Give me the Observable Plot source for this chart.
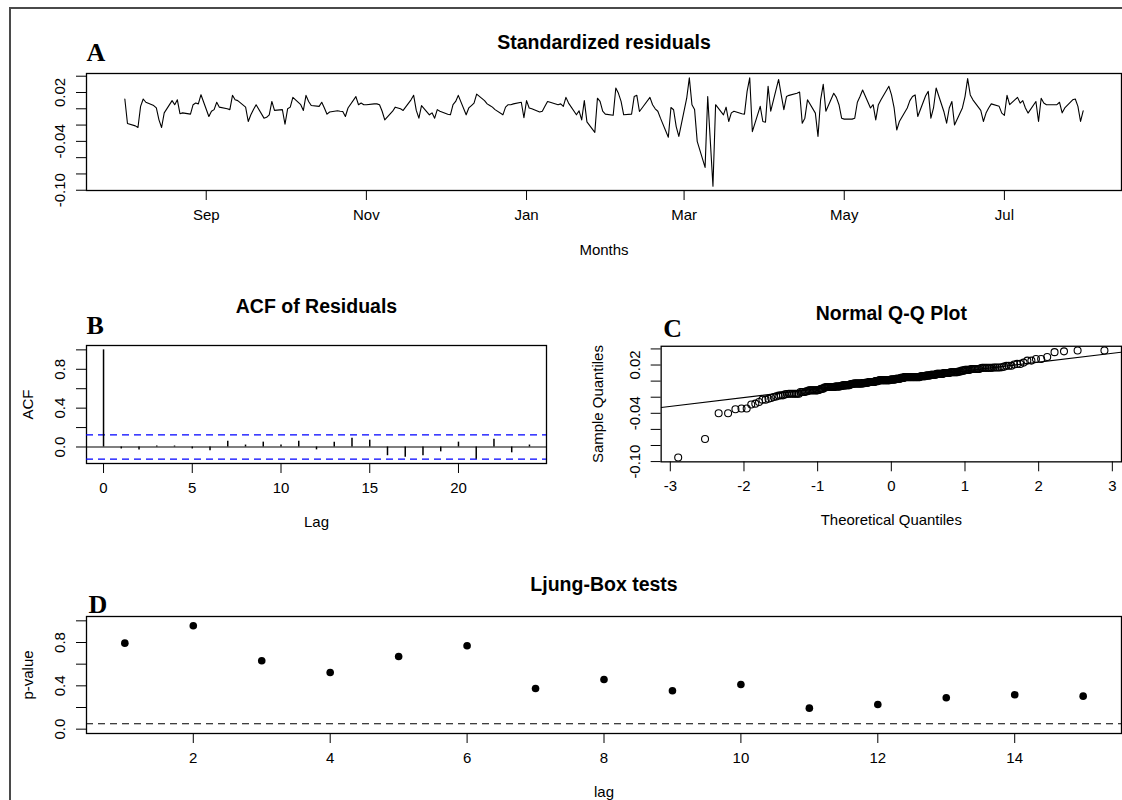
<!DOCTYPE html>
<html>
<head>
<meta charset="utf-8">
<script src="https://cdn.jsdelivr.net/npm/d3@7"></script>
<script src="https://cdn.jsdelivr.net/npm/@observablehq/plot@0.6"></script>
<style>
  html, body { margin: 0; padding: 0; background: #fff; }
  #page { position: relative; width: 1122px; height: 800px; overflow: hidden; background: #fff; }
  .panel { position: absolute; }
  #border { position: absolute; left: 9px; top: 7px; width: 1300px; height: 900px;
            border-left: 2px solid #4a4a4a; border-top: 2px solid #4a4a4a; box-sizing: border-box; }
</style>
</head>
<body>
<div id="page">
  <div id="border"></div>
  <div class="panel" id="pA" style="left:0;top:0"></div>
  <div class="panel" id="pB" style="left:0;top:280px"></div>
  <div class="panel" id="pC" style="left:561px;top:280px"></div>
  <div class="panel" id="pD" style="left:0;top:550px"></div>
</div>
<script>
// ---------------- DATA ----------------
// Standardized residuals, one value per weekday of each month (Aug 2019 - Jul 2020)
const resAug = [0.012, -0.018, -0.021, -0.023, 0.003, 0.012, 0.008, 0.004, 0.001, -0.0136, -0.023, -0.005, 0.010, 0.005, 0.011, -0.006, -0.005, -0.0066, 0.005, 0.007, 0.006, 0.0173];
const resSep = [-0.0095, -0.003, -0.001, 0.008, 0.002, 0.000, -0.001, 0.0165, 0.011, 0.010, 0.002, -0.0156, -0.0074, -0.001, 0.005, -0.0115, -0.0105, -0.0074, 0.009, -0.002, -0.001];
const resOct = [-0.019, 0.000, 0.002, 0.014, 0.005, -0.002, 0.0165, 0.009, 0.004, 0.003, 0.008, 0.001, -0.0066, -0.004, -0.0025, -0.003, -0.0033, -0.0095, 0.001, 0.015, 0.005, 0.007, 0.005];
const resNov = [0.005, 0.006, 0.006, 0.005, -0.003, -0.0136, -0.003, 0.002, 0.001, 0.000, -0.002, 0.011, 0.0165, -0.002, -0.0115, 0.004, -0.0074, -0.005, -0.0115, -0.001, -0.003];
const resDec = [-0.0066, -0.0074, 0.005, 0.009, 0.0165, -0.0074, 0.001, 0.004, 0.007, 0.018, 0.010, 0.006, 0.004, 0.002, -0.001, -0.0074, 0.002, 0.005, 0.005, 0.006, 0.008, -0.011];
const resJan = [0.010, 0.001, 0.000, -0.004, -0.003, 0.003, 0.009, 0.008, 0.005, 0.006, 0.003, 0.014, 0.007, -0.0074, -0.0025, -0.0136, 0.010, -0.016, -0.029, 0.013, 0.009, -0.003, -0.0066];
const resFeb = [-0.008, 0.0255, 0.019, 0.009, -0.0074, -0.0066, 0.015, 0.0165, -0.0033, 0.001, 0.014, 0.005, 0.000, -0.003, -0.0115, -0.035, 0.0016, -0.0012, -0.0218, -0.034];
const resMar = [0.013, 0.038, 0.005, -0.001, -0.040, -0.072, 0.015, -0.040, -0.095, 0.005, -0.0074, 0.002, -0.0156, -0.005, -0.003, -0.006, -0.0066, 0.0214, 0.038, -0.028, 0.003, -0.0156];
const resApr = [-0.0165, 0.0276, -0.003, 0.036, 0.017, -0.001, 0.015, 0.0165, 0.019, 0.0206, -0.0177, -0.0115, 0.011, -0.0053, -0.034, 0.011, 0.030, -0.003, 0.019, 0.014, 0.005, -0.0115];
const resMay = [-0.0127, -0.0127, -0.0115, 0.008, 0.015, 0.023, 0.001, 0.005, -0.0136, 0.005, 0.011, 0.0276, 0.017, 0.001, -0.026, -0.0156, 0.001, 0.010, 0.015, 0.017, -0.0095];
const resJun = [0.016, 0.0214, -0.0115, 0.001, 0.0255, -0.004, -0.0177, 0.001, 0.009, -0.0198, 0.001, 0.015, 0.037, 0.017, 0.011, -0.002, -0.0156, -0.0053, 0.001, 0.006, 0.003, -0.0053];
const resJul = [-0.008, 0.0165, 0.005, 0.014, 0.007, 0.010, 0.001, -0.0053, 0.009, -0.0156, 0.013, 0.007, 0.005, 0.005, 0.005, 0.008, -0.005, 0.001, 0.011, 0.012, 0.003, -0.0156, -0.0025];

const monthTickDates = ["2019-09-01", "2019-11-01", "2020-01-01", "2020-03-01", "2020-05-01", "2020-07-01"];
const residualTicks = [0.04, 0.02, 0.00, -0.02, -0.04, -0.06, -0.08, -0.10];
const residualLabels = [0.02, -0.04, -0.10];

// ACF of residuals
const acfLags   = [0, 1, 2, 3, 4, 5, 6, 7, 8, 9, 10, 11, 12, 13, 14, 15, 16, 17, 18, 19, 20, 21, 22, 23, 24];
const acfValues = [1, -0.02, -0.03, 0.01, 0.01, -0.02, -0.04, 0.06, 0.02, 0.05, 0.02, 0.06, -0.03, 0.05, 0.09, 0.07, -0.09, -0.105, -0.09, -0.05, 0.05, -0.127, 0.08, -0.06, 0.02];
const acfBounds = [0.125, -0.125];
const acfXTicks = [0, 5, 10, 15, 20];
const acfYTicks = [0, 0.2, 0.4, 0.6, 0.8, 1.0];
const acfYLabels = [0, 0.4, 0.8];

// Normal Q-Q
const qqXTicks = [-3, -2, -1, 0, 1, 2, 3];

// Ljung-Box p-values
const lbLags = [1, 2, 3, 4, 5, 6, 7, 8, 9, 10, 11, 12, 13, 14, 15];
const lbPValues = [0.794, 0.955, 0.632, 0.523, 0.671, 0.770, 0.376, 0.459, 0.354, 0.413, 0.194, 0.228, 0.290, 0.318, 0.305];
const lbLevel = [0.05];
const lbXTicks = [2, 4, 6, 8, 10, 12, 14];
const lbYTicks = [0, 0.2, 0.4, 0.6, 0.8, 1.0];
const lbYLabels = [0, 0.4, 0.8];

// ---------------- BUILD TABLES ----------------
const monthBlocks = [
  [2019, 7, resAug], [2019, 8, resSep], [2019, 9, resOct], [2019, 10, resNov], [2019, 11, resDec],
  [2020, 0, resJan], [2020, 1, resFeb], [2020, 2, resMar], [2020, 3, resApr], [2020, 4, resMay],
  [2020, 5, resJun], [2020, 6, resJul]
];
function weekdays(y, m) {
  return d3.utcDays(new Date(Date.UTC(y, m, 1)), new Date(Date.UTC(y, m + 1, 1)))
    .filter(d => d.getUTCDay() !== 0 && d.getUTCDay() !== 6);
}
const residuals = monthBlocks.flatMap(([y, m, vals]) => {
  const days = weekdays(y, m);
  return vals.slice(0, days.length).map((v, i) => ({date: days[i], value: v}));
});
const acfData = acfLags.map((lag, i) => ({lag, acf: acfValues[i]}));
const lbData = lbLags.map((lag, i) => ({lag, p: lbPValues[i]}));

// theoretical normal quantiles (as in qqnorm)
function qnorm(p) {
  const a = [-3.969683028665376e+01, 2.209460984245205e+02, -2.759285104469687e+02, 1.383577518672690e+02, -3.066479806614716e+01, 2.506628277459239e+00];
  const b = [-5.447609879822406e+01, 1.615858368580409e+02, -1.556989798598866e+02, 6.680131188771972e+01, -1.328068155288572e+01];
  const c = [-7.784894002430293e-03, -3.223964580411365e-01, -2.400758277161838e+00, -2.549671010243000e+00, 4.374664141464968e+00, 2.938163982698783e+00];
  const d = [7.784695709041462e-03, 3.224671290700398e-01, 2.445134137142996e+00, 3.754408661907416e+00];
  const pl = 0.02425, ph = 1 - pl;
  let q, r;
  if (p < pl) { q = Math.sqrt(-2 * Math.log(p)); return (((((c[0]*q+c[1])*q+c[2])*q+c[3])*q+c[4])*q+c[5]) / ((((d[0]*q+d[1])*q+d[2])*q+d[3])*q+1); }
  if (p <= ph) { q = p - 0.5; r = q*q; return (((((a[0]*r+a[1])*r+a[2])*r+a[3])*r+a[4])*r+a[5])*q / (((((b[0]*r+b[1])*r+b[2])*r+b[3])*r+b[4])*r+1); }
  q = Math.sqrt(-2 * Math.log(1 - p)); return -(((((c[0]*q+c[1])*q+c[2])*q+c[3])*q+c[4])*q+c[5]) / ((((d[0]*q+d[1])*q+d[2])*q+d[3])*q+1);
}
const sortedRes = residuals.map(d => d.value).sort(d3.ascending);
const nRes = sortedRes.length;
const qqData = sortedRes.map((v, i) => ({theo: qnorm((i + 1 - 0.5) / nRes), sample: v}));
const q1 = d3.quantile(sortedRes, 0.25), q3 = d3.quantile(sortedRes, 0.75);
const slope = (q3 - q1) / (qnorm(0.75) - qnorm(0.25));
const intercept = q1 - slope * qnorm(0.25);

function pad(ext, f = 0.04) { const r = ext[1] - ext[0]; return [ext[0] - r * f, ext[1] + r * f]; }
const resYDomain = pad(d3.extent(residuals, d => d.value));
const dateExt = d3.extent(residuals, d => d.date);
const dateDomain = pad([+dateExt[0], +dateExt[1]]).map(t => new Date(t));
const qqXDomain = pad(d3.extent(qqData, d => d.theo));
const qqLine = qqXDomain.map(x => ({theo: x, sample: intercept + slope * x}));

// ---------------- COMMON STYLE ----------------
const FONT = "'Liberation Sans', Arial, sans-serif";
const style = {fontFamily: FONT, fontSize: "16px", color: "#000", background: "transparent", overflow: "visible"};
const TITLE = {fontWeight: "bold", fontSize: 19.5, fill: "#000", textAnchor: "middle", lineAnchor: "middle"};
const LETTER = {fontWeight: "bold", fontSize: 26, fontFamily: "'Liberation Serif', 'Times New Roman', serif", fill: "#000", textAnchor: "start", lineAnchor: "middle"};
const YLAB = {frameAnchor: "left", rotate: -90, textAnchor: "middle", lineAnchor: "middle", fontSize: 15};
const XLAB = {frameAnchor: "bottom", textAnchor: "middle", lineAnchor: "middle", fontSize: 15};
const one = ["x"];
const plain = d => String(d);

// ---------------- PANEL A ----------------
const plotA = Plot.plot({
  width: 1122, height: 270,
  marginLeft: 86, marginRight: 1, marginTop: 73, marginBottom: 80,
  style,
  x: {type: "utc", domain: dateDomain},
  y: {domain: resYDomain},
  marks: [
    Plot.frame({stroke: "#000", strokeWidth: 1.3}),
    Plot.line(residuals, {x: "date", y: "value", stroke: "#000", strokeWidth: 1.1}),
    Plot.axisX({ticks: monthTickDates.map(s => new Date(s)), tickFormat: d3.utcFormat("%b"), tickSize: 10, tickPadding: 9, label: null, fontSize: 15}),
    Plot.axisY({ticks: residualTicks, tickSize: 10, tickFormat: () => "", label: null}),
    Plot.text(residualLabels, {y: d => d, text: d => d.toFixed(2), dx: -26, ...YLAB}),
    Plot.text(one, {text: () => "Months", dy: 60, ...XLAB}),
    Plot.text(one, {text: () => "Standardized residuals", frameAnchor: "top", dy: -31, ...TITLE}),
    Plot.text(one, {text: () => "A", frameAnchor: "top-left", dx: 0, dy: -21, ...LETTER})
  ]
});
document.getElementById("pA").append(plotA);

// ---------------- PANEL B ----------------
const plotB = Plot.plot({
  width: 561, height: 270,
  marginLeft: 86, marginRight: 15, marginTop: 65, marginBottom: 87,
  style,
  x: {domain: pad([0, 24])},
  y: {domain: pad([-0.125, 1])},
  marks: [
    Plot.frame({stroke: "#000", strokeWidth: 1.3}),
    Plot.ruleY([0], {stroke: "#000", strokeWidth: 1.2}),
    Plot.ruleY(acfBounds, {stroke: "#0000ff", strokeWidth: 1.3, strokeDasharray: "7,5"}),
    Plot.ruleX(acfData, {x: "lag", y1: 0, y2: "acf", stroke: "#000", strokeWidth: 1.5}),
    Plot.axisX({ticks: acfXTicks, tickFormat: plain, tickSize: 10, tickPadding: 9, label: null, fontSize: 15}),
    Plot.axisY({ticks: acfYTicks, tickSize: 10, tickFormat: () => "", label: null}),
    Plot.text(acfYLabels, {y: d => d, text: d => d.toFixed(1), dx: -26, ...YLAB}),
    Plot.text(one, {text: () => "Lag", dy: 59, ...XLAB}),
    Plot.text(one, {text: () => "ACF", dx: -58, ...YLAB}),
    Plot.text(one, {text: () => "ACF of Residuals", frameAnchor: "top", dy: -39, ...TITLE}),
    Plot.text(one, {text: () => "B", frameAnchor: "top-left", dx: 0, dy: -20, ...LETTER})
  ]
});
document.getElementById("pB").append(plotB);

// ---------------- PANEL C ----------------
const plotC = Plot.plot({
  width: 563, height: 270,
  marginLeft: 100, marginRight: 1, marginTop: 66, marginBottom: 88,
  style,
  x: {domain: qqXDomain},
  y: {domain: resYDomain},
  marks: [
    Plot.frame({stroke: "#000", strokeWidth: 1.3}),
    Plot.line(qqLine, {x: "theo", y: "sample", stroke: "#000", strokeWidth: 1.1, clip: true}),
    Plot.dot(qqData, {x: "theo", y: "sample", r: 3.5, stroke: "#000", strokeWidth: 1.1, fill: "none"}),
    Plot.axisX({ticks: qqXTicks, tickFormat: plain, tickSize: 10, tickPadding: 9, label: null, fontSize: 15}),
    Plot.axisY({ticks: residualTicks, tickSize: 10, tickFormat: () => "", label: null}),
    Plot.text(residualLabels, {y: d => d, text: d => d.toFixed(2), dx: -26, ...YLAB}),
    Plot.text(one, {text: () => "Theoretical Quantiles", dy: 59, ...XLAB}),
    Plot.text(one, {text: () => "Sample Quantiles", dx: -63, ...YLAB}),
    Plot.text(one, {text: () => "Normal Q-Q Plot", frameAnchor: "top", dy: -33, ...TITLE}),
    Plot.text(one, {text: () => "C", frameAnchor: "top-left", dx: 2, dy: -18, ...LETTER})
  ]
});
document.getElementById("pC").append(plotC);

// ---------------- PANEL D ----------------
const plotD = Plot.plot({
  width: 1122, height: 250,
  marginLeft: 86, marginRight: 1, marginTop: 66, marginBottom: 67,
  style,
  x: {domain: pad([1, 15])},
  y: {domain: pad([0, 1])},
  marks: [
    Plot.frame({stroke: "#000", strokeWidth: 1.3}),
    Plot.ruleY(lbLevel, {stroke: "#000", strokeWidth: 1.2, strokeDasharray: "7,5"}),
    Plot.dot(lbData, {x: "lag", y: "p", r: 3.8, fill: "#000", stroke: "none"}),
    Plot.axisX({ticks: lbXTicks, tickFormat: plain, tickSize: 10, tickPadding: 9, label: null, fontSize: 15}),
    Plot.axisY({ticks: lbYTicks, tickSize: 10, tickFormat: () => "", label: null}),
    Plot.text(lbYLabels, {y: d => d, text: d => d.toFixed(1), dx: -26, ...YLAB}),
    Plot.text(one, {text: () => "lag", dy: 59, ...XLAB}),
    Plot.text(one, {text: () => "p-value", dx: -58, ...YLAB}),
    Plot.text(one, {text: () => "Ljung-Box tests", frameAnchor: "top", dy: -32, ...TITLE}),
    Plot.text(one, {text: () => "D", frameAnchor: "top-left", dx: 2, dy: -12, ...LETTER})
  ]
});
document.getElementById("pD").append(plotD);
</script>
</body>
</html>
